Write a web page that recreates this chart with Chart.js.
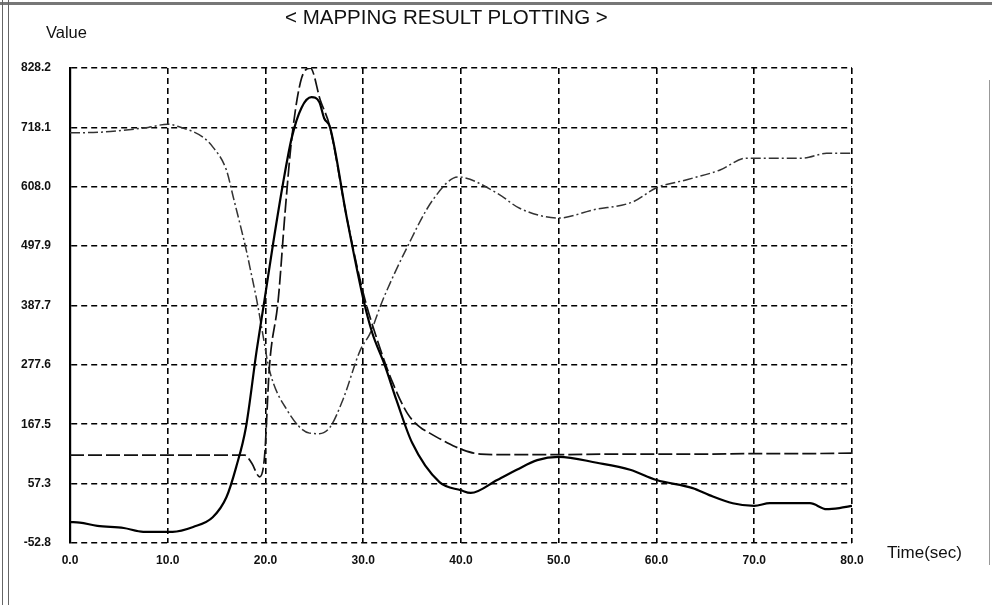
<!DOCTYPE html>
<html>
<head>
<meta charset="utf-8">
<script src="https://cdn.jsdelivr.net/npm/chart.js@4.4.1/dist/chart.umd.min.js"></script>
<style>
    body { margin: 0; background: #fff; }
    #frame { position: relative; width: 992px; height: 605px; overflow: hidden; }
    #frame .edge-top { position: absolute; left: 0; top: 2px; width: 992px; height: 3px; background: #777; }
    #frame .edge-left { position: absolute; left: 2px; top: 0; width: 5px; height: 605px; border-left: 1px solid #666; border-right: 1px solid #666; }
    #frame .edge-right { position: absolute; left: 989px; top: 80px; width: 1px; height: 485px; background: #999; }
    .lbl { position: absolute; font-family: "Liberation Sans", Arial, sans-serif; color: #111; white-space: nowrap; }
</style>
</head>
<body>
<div id="frame">
    <canvas id="mapping-chart" width="992" height="605"></canvas>
    <div class="edge-top"></div>
    <div class="edge-left"></div>
    <div class="edge-right"></div>
    <div class="lbl" style="left:285px; top:5px; font-size:20.5px;">&lt; MAPPING RESULT PLOTTING &gt;</div>
    <div class="lbl" style="left:46px; top:23px; font-size:16.5px;">Value</div>
    <div class="lbl" style="left:887px; top:543px; font-size:17px;">Time(sec)</div>
</div>
<script>
// axis ticks
const xTicks = [0, 10, 20, 30, 40, 50, 60, 70, 80];
const yTicks = [-52.8, 57.3, 167.5, 277.6, 387.7, 497.9, 608.0, 718.1, 828.2];

// solid line
const s1Time  = [0, 1, 2.8, 5.5, 7.5, 10.5, 12.6, 14.6, 16, 17, 18, 19.1, 19.9, 20.8, 21.8, 22.7, 23.7, 24.7, 25.5, 26, 26.6, 28.3, 30, 30.9, 32.2, 33.4, 35, 37.8, 40, 41, 43.7, 45.7, 47.8, 50, 53.9, 57.3, 60, 63.7, 65.4, 67.8, 70, 71.6, 75.7, 77.4, 78.7, 80];
const s1Value = [-14, -15, -21, -25, -32, -32, -23, -5, 32, 88, 162, 305, 398, 505, 615, 700, 755, 774, 765, 735, 718, 552, 400, 338, 277, 212, 133, 60, 45, 40, 64, 83, 101, 107, 96, 83, 64, 49, 36, 21, 16, 21, 21, 10, 12, 16];

// long dashed line
const s2Time  = [0, 5, 10, 15, 17.9, 18.6, 19.4, 19.9, 20.4, 21.3, 22.0, 22.7, 23.7, 24.6, 25.6, 26.6, 28.3, 30, 31.5, 33, 34.5, 35.8, 36.8, 38.5, 40.2, 42, 45, 50, 55, 60, 65, 70, 75, 80];
const s2Value = [110, 110, 110, 110, 110, 95, 70, 107, 274, 398, 560, 700, 810, 828, 769, 718, 552, 411, 320, 245, 188, 162, 151, 134, 120, 112, 111, 111, 112, 112, 112, 113, 113, 114];

// dash-dot line
const s3Time  = [0, 3, 5, 8, 10, 11, 13.6, 14.6, 16, 16.7, 18.1, 18.4, 19.1, 19.7, 20.4, 22.2, 24.5, 25.5, 26.6, 27.9, 29.7, 30.7, 32, 34.5, 37.1, 39.7, 43.7, 46, 50, 53.5, 57.6, 60, 63.1, 66.5, 69.2, 72, 75, 77.4, 80];
const s3Value = [708, 709, 712, 718, 724, 720, 700, 682, 639, 589, 485, 459, 398, 337, 268, 194, 151, 150, 162, 212, 305, 336, 398, 496, 583, 626, 596, 568, 550, 565, 580, 606, 621, 639, 661, 661, 661, 670, 670];

function toPoints(t, v) {
    return t.map(function(x, i) { return {x: x, y: v[i]}; });
}

const tickFont = {family: "Liberation Sans", size: 12, weight: "bold"};

new Chart("mapping-chart", {
    type: "line",
    data: {
        datasets: [
            {
                label: "s1",
                data: toPoints(s1Time, s1Value),
                borderColor: "#000",
                borderWidth: 2.2,
                pointRadius: 0,
                cubicInterpolationMode: "monotone",
                fill: false
            },
            {
                label: "s2",
                data: toPoints(s2Time, s2Value),
                borderColor: "#111",
                borderWidth: 1.7,
                borderDash: [14, 4],
                pointRadius: 0,
                cubicInterpolationMode: "monotone",
                fill: false
            },
            {
                label: "s3",
                data: toPoints(s3Time, s3Value),
                borderColor: "#333",
                borderWidth: 1.5,
                borderDash: [10, 3, 2, 3],
                pointRadius: 0,
                cubicInterpolationMode: "monotone",
                fill: false
            }
        ]
    },
    options: {
        responsive: false,
        animation: false,
        layout: { padding: { top: 68, right: 140, left: 0, bottom: 0 } },
        plugins: {
            legend: { display: false },
            tooltip: { enabled: false }
        },
        scales: {
            x: {
                type: "linear",
                min: 0,
                max: 80,
                afterBuildTicks: function(axis) { axis.ticks = xTicks.map(function(v) { return {value: v}; }); },
                afterFit: function(axis) { axis.height = 62; },
                ticks: {
                    callback: function(v) { return Number(v).toFixed(1); },
                    padding: 10,
                    maxRotation: 0,
                    color: "#111",
                    font: tickFont
                },
                grid: { color: "#000", lineWidth: 1.6, drawTicks: false },
                border: { display: false, dash: [6, 4] }
            },
            y: {
                type: "linear",
                min: -52.8,
                max: 828.2,
                afterBuildTicks: function(axis) { axis.ticks = yTicks.map(function(v) { return {value: v}; }); },
                afterFit: function(axis) { axis.width = 70; },
                ticks: {
                    callback: function(v) { return Number(v).toFixed(1); },
                    padding: 19,
                    color: "#111",
                    font: tickFont
                },
                grid: { color: "#000", lineWidth: 1.6, drawTicks: false },
                border: { display: true, color: "#000", width: 2.2, dash: [6, 4] }
            }
        }
    }
});
</script>
</body>
</html>
